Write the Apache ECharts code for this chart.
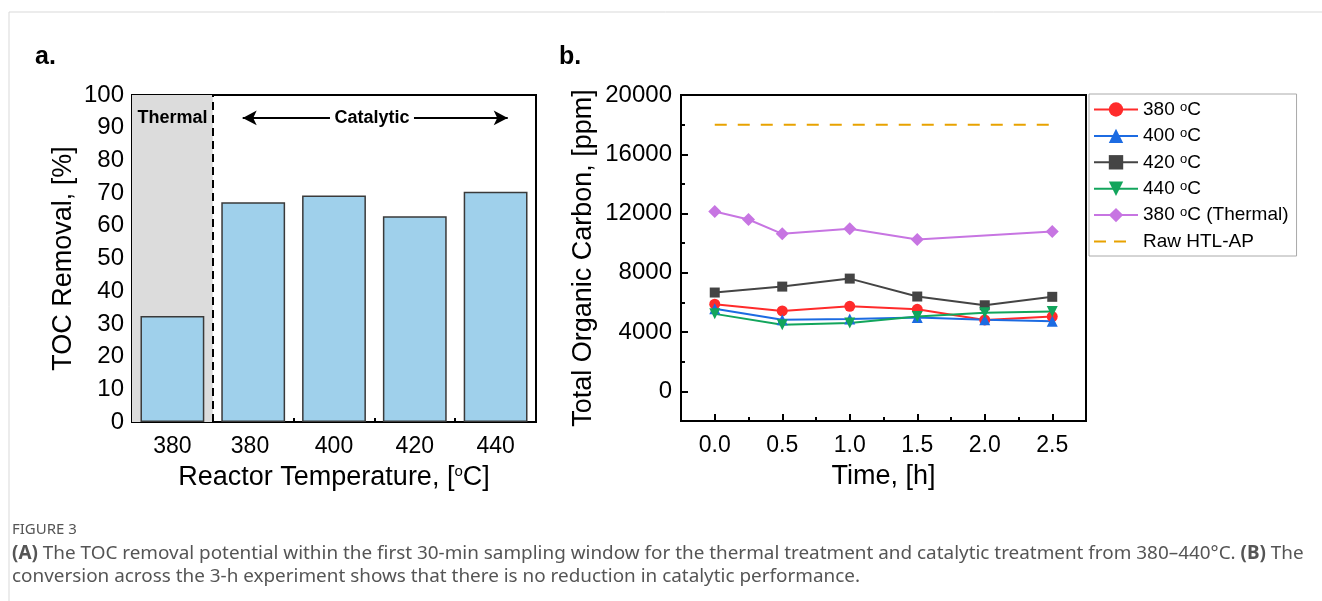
<!DOCTYPE html>
<html>
<head>
<meta charset="utf-8">
<script src="https://cdn.jsdelivr.net/npm/echarts@6/dist/echarts.min.js"></script>
<style>
  html, body { margin: 0; padding: 0; background: #fff; }
  #main { width: 1322px; height: 601px; }
</style>
</head>
<body>
<div id="main"></div>
<script>
// panel a: TOC removal per reactor temperature
const tempLabels = ['380', '380 ', '400', '420', '440']
const tocRemoval = [32.4, 67.2, 69.3, 62.9, 70.4]

// panel b: TOC over time
const timeCat = [0, 0.5, 1.0, 1.5, 2.0, 2.5]
const toc380 = [5880, 5430, 5740, 5540, 4820, 5050]
const toc400 = [5570, 4840, 4890, 4980, 4840, 4730]
const toc420 = [6670, 7070, 7610, 6400, 5810, 6380]
const toc440 = [5230, 4490, 4620, 5050, 5300, 5390]
const timeThermal = [0, 0.25, 0.5, 1.0, 1.5, 2.5]
const toc380Thermal = [12140, 11600, 10630, 10970, 10250, 10790]
const timeRaw = [0, 2.5]
const tocRaw = [18000, 18000]
const tocTicks = [0, 4000, 8000, 12000, 16000, 20000]
const timeTicks = [0, 0.5, 1.0, 1.5, 2.0, 2.5]

const FONT = '"Liberation Sans", Arial, sans-serif'
const sup = { fontSize: 15, fontFamily: FONT, verticalAlign: 'top' }

function pairs(xs, ys) {
  return xs.map((x, i) => [x, ys[i]])
}

var chart = echarts.init(document.getElementById('main'))

var axisLine = { show: true, onZero: false, lineStyle: { color: '#000', width: 2 } }
var hiddenLine = { show: false, onZero: false }
var tickLabel = { color: '#000', fontSize: 23, fontFamily: FONT }
var titleStyle = { color: '#000', fontSize: 27, fontFamily: FONT }

var option = {
  animation: false,
  textStyle: { fontFamily: FONT },
  grid: [
    { left: 132, top: 95, width: 404, height: 327, show: true, borderColor: '#000', borderWidth: 2 },
    { left: 681, top: 95, width: 405, height: 326, show: true, borderColor: '#000', borderWidth: 2 }
  ],
  xAxis: [
    {
      type: 'category', gridIndex: 0, position: 'bottom', data: tempLabels,
      axisLine: axisLine,
      axisTick: { alignWithLabel: true, inside: true, length: 8, lineStyle: { color: '#000', width: 2 } },
      axisLabel: Object.assign({ margin: 13 }, tickLabel),
      name: 'Reactor Temperature, [{sup|o}C]', nameLocation: 'middle', nameGap: 42,
      nameTextStyle: Object.assign({ rich: { sup: sup } }, titleStyle)
    },
    {
      // boundary ticks between categories
      type: 'value', gridIndex: 0, position: 'bottom', min: 0, max: 5, interval: 1,
      axisLine: hiddenLine, axisLabel: { show: false }, splitLine: { show: false },
      axisTick: { inside: true, length: 4, lineStyle: { color: '#000', width: 2 } }
    },
    {
      type: 'value', gridIndex: 1, position: 'bottom', min: -0.25, max: 2.75,
      axisLine: axisLine,
      axisTick: { show: true, customValues: timeTicks, inside: true, length: 7, lineStyle: { color: '#000', width: 2 } },
      axisLabel: Object.assign({ customValues: timeTicks, margin: 13, formatter: v => v.toFixed(1) }, tickLabel),
      splitLine: { show: false },
      name: 'Time, [h]', nameLocation: 'middle', nameGap: 42,
      nameTextStyle: titleStyle
    },
    {
      // minor ticks at the quarter hours
      type: 'value', gridIndex: 1, position: 'bottom', min: -0.25, max: 2.75, interval: 0.5,
      axisLine: hiddenLine, axisLabel: { show: false }, splitLine: { show: false },
      axisTick: { show: true, inside: true, length: 4, lineStyle: { color: '#000', width: 2 } }
    }
  ],
  yAxis: [
    {
      type: 'value', gridIndex: 0, position: 'left', min: 0, max: 100, interval: 10,
      axisLine: axisLine,
      axisTick: { show: true, inside: true, length: 7, lineStyle: { color: '#000', width: 2 } },
      minorTick: { show: true, splitNumber: 2, length: 4, lineStyle: { color: '#000', width: 2 } },
      axisLabel: Object.assign({ margin: 8 }, tickLabel, { fontSize: 24 }),
      splitLine: { show: false },
      name: 'TOC Removal, [%]', nameLocation: 'middle', nameGap: 55,
      nameTextStyle: titleStyle
    },
    {
      type: 'value', gridIndex: 1, position: 'left', min: -2000, max: 20000,
      axisLine: axisLine,
      axisTick: { show: true, customValues: tocTicks, inside: true, length: 7, lineStyle: { color: '#000', width: 2 } },
      axisLabel: Object.assign({ customValues: tocTicks, margin: 9, formatter: v => String(v) }, tickLabel, { fontSize: 24 }),
      splitLine: { show: false },
      name: 'Total Organic Carbon, [ppm]', nameLocation: 'middle', nameGap: 84,
      nameTextStyle: titleStyle
    },
    {
      // minor ticks between labelled values
      type: 'value', gridIndex: 1, position: 'left', min: -2000, max: 20000, interval: 4000,
      axisLine: hiddenLine, axisLabel: { show: false }, splitLine: { show: false },
      axisTick: { show: true, inside: true, length: 4, lineStyle: { color: '#000', width: 2 } }
    }
  ],
  legend: {
    show: true,
    orient: 'vertical',
    left: 1089, top: 94,
    padding: [6, 8, 5, 4],
    borderColor: '#aaa', borderWidth: 1,
    itemWidth: 44, itemHeight: 18, itemGap: 7.4,
    textStyle: { color: '#000', fontSize: 19, lineHeight: 18, fontFamily: FONT, rich: { sup: { fontSize: 13, fontFamily: FONT, verticalAlign: 'top' } } },
    formatter: name => name.replace('°', '{sup|o}'),
    data: [
      '380 °C', '400 °C', '420 °C', '440 °C', '380 °C (Thermal)',
      {
        name: 'Raw HTL-AP',
        icon: 'path://M0,8H12V10H0Z M20,8H32V10H20Z M0,0H0.01V0.01H0Z M44,18H43.99V17.99H44Z',
        itemStyle: { color: '#e8a200' }
      }
    ]
  },
  series: [
    {
      // shaded thermal region
      type: 'line', xAxisIndex: 1, yAxisIndex: 0, z: 1,
      data: [[0, 0]], symbol: 'none', lineStyle: { opacity: 0 }, silent: true,
      markArea: {
        silent: true,
        itemStyle: { color: '#dcdcdc' },
        data: [[{ xAxis: 0 }, { xAxis: 1 }]]
      }
    },
    {
      // thermal / catalytic separator
      type: 'line', xAxisIndex: 1, yAxisIndex: 0, z: 4,
      data: [[0, 0]], symbol: 'none', lineStyle: { opacity: 0 }, silent: true,
      markLine: {
        silent: true, symbol: ['none', 'none'],
        lineStyle: { color: '#000', width: 2, type: [8, 5] },
        label: { show: false },
        data: [{ xAxis: 1 }]
      }
    },
    {
      // catalytic range arrow and labels
      type: 'line', xAxisIndex: 1, yAxisIndex: 0, z: 4,
      data: [[0, 0]], symbol: 'none', lineStyle: { opacity: 0 }, silent: true,
      markLine: {
        silent: true, symbol: ['arrow', 'arrow'], symbolSize: [11, 14],
        lineStyle: { color: '#000', width: 2, type: 'solid' },
        label: { show: false },
        data: [[{ coord: [1.37, 93] }, { coord: [4.65, 93] }]]
      },
      markPoint: {
        silent: true,
        data: [
          { coord: [0.5, 93], symbol: 'rect', symbolSize: 1, itemStyle: { color: 'rgba(0,0,0,0)' },
            label: { show: true, position: 'inside', formatter: 'Thermal', color: '#000', fontSize: 18, fontWeight: 'bold', fontFamily: FONT } },
          { coord: [2.97, 93], symbol: 'rect', symbolSize: [84, 14], itemStyle: { color: '#fff' },
            label: { show: true, position: 'inside', formatter: 'Catalytic', color: '#000', fontSize: 18, fontWeight: 'bold', fontFamily: FONT } }
        ]
      }
    },
    {
      type: 'bar', xAxisIndex: 0, yAxisIndex: 0, z: 3,
      data: tocRemoval, barWidth: '79%',
      itemStyle: { color: '#9fd0eb', borderColor: '#3a3a3a', borderWidth: 1.5 }
    },
    {
      name: '380 °C', type: 'line', xAxisIndex: 2, yAxisIndex: 1,
      data: pairs(timeCat, toc380), symbol: 'circle', symbolSize: 11,
      itemStyle: { color: '#ff2b2b' }, lineStyle: { color: '#ff2b2b', width: 2 }
    },
    {
      name: '400 °C', type: 'line', xAxisIndex: 2, yAxisIndex: 1,
      data: pairs(timeCat, toc400), symbol: 'triangle', symbolSize: 11,
      itemStyle: { color: '#1c6be2' }, lineStyle: { color: '#1c6be2', width: 2 }
    },
    {
      name: '420 °C', type: 'line', xAxisIndex: 2, yAxisIndex: 1,
      data: pairs(timeCat, toc420), symbol: 'rect', symbolSize: 10,
      itemStyle: { color: '#444' }, lineStyle: { color: '#444', width: 2 }
    },
    {
      name: '440 °C', type: 'line', xAxisIndex: 2, yAxisIndex: 1,
      data: pairs(timeCat, toc440), symbol: 'triangle', symbolRotate: 180, symbolSize: 11,
      itemStyle: { color: '#12a55c' }, lineStyle: { color: '#12a55c', width: 2 }
    },
    {
      name: '380 °C (Thermal)', type: 'line', xAxisIndex: 2, yAxisIndex: 1,
      data: pairs(timeThermal, toc380Thermal), symbol: 'diamond', symbolSize: 13,
      itemStyle: { color: '#c775e2' }, lineStyle: { color: '#c775e2', width: 2 }
    },
    {
      name: 'Raw HTL-AP', type: 'line', xAxisIndex: 2, yAxisIndex: 1,
      data: pairs(timeRaw, tocRaw), symbol: 'none',
      itemStyle: { color: '#e8a200' }, lineStyle: { color: '#e8a200', width: 2, type: [12, 11] }
    }
  ],
  graphic: [
    { type: 'line', shape: { x1: 9, y1: 12, x2: 1322, y2: 12 }, style: { stroke: '#d9d9d9', lineWidth: 1 } },
    { type: 'line', shape: { x1: 9, y1: 12, x2: 9, y2: 601 }, style: { stroke: '#d9d9d9', lineWidth: 1 } },
    { type: 'text', left: 35, top: 45, style: { text: 'a.', font: 'bold 25px ' + FONT, fill: '#000' } },
    { type: 'text', left: 559, top: 45, style: { text: 'b.', font: 'bold 25px ' + FONT, fill: '#000' } },
    { type: 'text', left: 12, top: 522, style: { text: 'FIGURE 3', font: '15px "Noto Sans", sans-serif', fill: '#555' } },
    {
      type: 'text', left: 12, top: 542,
      style: {
        text: '{b|(A)} The TOC removal potential within the first 30-min sampling window for the thermal treatment and catalytic treatment from 380–440°C. {b|(B)} The\nconversion across the 3-h experiment shows that there is no reduction in catalytic performance.',
        font: '18.9px "Noto Sans", sans-serif', fill: '#555', lineHeight: 23,
        rich: { b: { fontWeight: 'bold', fontSize: 18.9, fontFamily: '"Noto Sans", sans-serif', fill: '#555', lineHeight: 23 } }
      }
    }
  ]
}

chart.setOption(option)
</script>
</body>
</html>
